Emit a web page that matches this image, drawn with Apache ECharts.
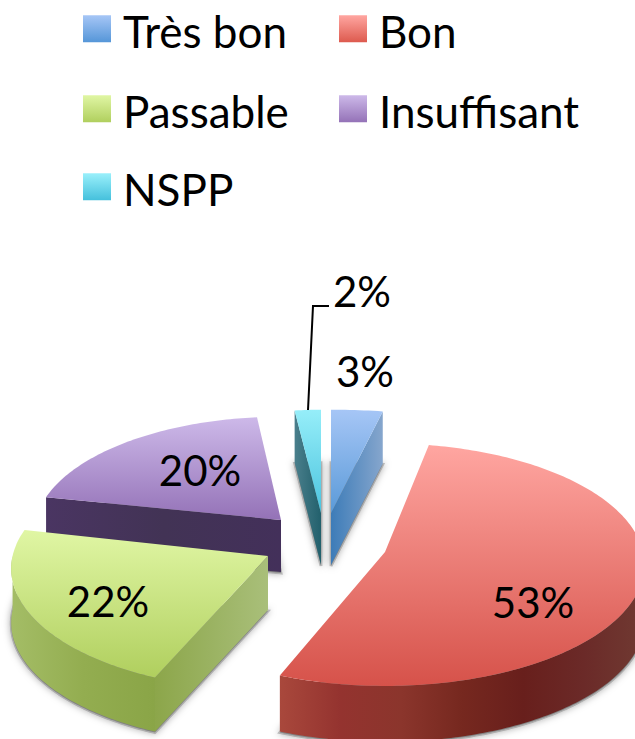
<!DOCTYPE html>
<html lang="fr">
<head>
<meta charset="utf-8">
<title>Répartition</title>
<script src="https://cdn.jsdelivr.net/npm/echarts@6/dist/echarts.min.js"></script>
<style>
  html, body { margin: 0; padding: 0; background: #fff; }
  #chart { width: 635px; height: 739px; }
</style>
</head>
<body>
<div id="chart"></div>
<script>
// data, clockwise from 12 o'clock
var categories = ['Très bon', 'Bon', 'Passable', 'Insuffisant', 'NSPP'];
var values = [3, 53, 22, 20, 2];

// pie geometry (tilted disc with a bit of perspective)
var center = [326, 530];
var radiusX = 258, radiusY = 120, perspective = 0.104;
var depth = [52, 56, 54, 52, 52];
var explode = [[5, -17], [59, 22], [-58, 26], [-45, -10], [-5, -17]];
var sliceScale = [[1.18, 0.95], [1, 1], [0.99, 1], [0.95, 0.95], [0.9, 0.95]];
var sliceTurn = [0, 0, 2, 1, 0];
var drawOrder = [2, 5, 4, 3, 1];
var labelPos = [[365, 371], [533, 602], [108, 601], [200, 470], [362, 291]];
var legendPos = [[83, 8.5], [339, 8.5], [83, 88.5], [339, 88.5], [83, 166.5]];

// colours
var topColors = [['#a6c6f6', '#5a9ad8'], ['#ffa6a1', '#d6524a'], ['#e0f6a4', '#b0cf5e'], ['#cdb9e9', '#9472b7'], ['#96eef9', '#4bc3de']];
var legendColors = [['#a6c6f6', '#5596d8'], ['#ffa6a1', '#dd5a4e'], ['#e0f6a4', '#b0cf5e'], ['#cdb9e9', '#9472b7'], ['#9af0fb', '#45c0dc']];
var arcColors = [
  ['#3f7db8', '#3f7db8'],
  ['#a9483c', '#94332f', '#8b352c', '#76281f', '#681f1c', '#6b2a28', '#703a32'],
  ['#a4bd66', '#93ad50', '#8aa547'],
  ['#4a3562', '#43305a'],
  ['#25606c', '#25606c']
];
var edgeColors = [
  ['#3d7cb8', '#86a6cd'],
  ['#a9483c', '#a9483c'],
  ['#8ca64a', '#a9bf7a'],
  ['#4a3562', '#423355', '#43305a'],
  ['#4a7f8c', '#22606c']
];

// start and end angle of each slice, in degrees
var total = values.reduce(function(a, b) { return a + b; }, 0);
var angles = [];
var running = 0;
values.forEach(function(v, i) {
  angles.push([running / total * 360 + sliceTurn[i], (running + v) / total * 360 + sliceTurn[i]]);
  running += v;
});

function project(i, theta) {
  var t = theta * Math.PI / 180;
  var s = 1 / (1 + perspective * Math.cos(t));
  return [
    center[0] + explode[i][0] + radiusX * sliceScale[i][0] * Math.sin(t) * s,
    center[1] + explode[i][1] - radiusY * sliceScale[i][1] * Math.cos(t) * s
  ];
}

function arcPoints(i, from, to) {
  var pts = [];
  var n = Math.max(2, Math.ceil(to - from));
  for (var k = 0; k <= n; k++) pts.push(project(i, from + (to - from) * k / n));
  return pts;
}

function shiftDown(pts, dy) {
  return pts.map(function(p) { return [p[0], p[1] + dy]; });
}

function gradient(colors, vertical) {
  return {
    type: 'linear', x: 0, y: 0, x2: vertical ? 0 : 1, y2: vertical ? 1 : 0,
    colorStops: colors.map(function(c, j) {
      return { offset: colors.length > 1 ? j / (colors.length - 1) : 0, color: c };
    })
  };
}

function wall(topPts, h, colors) {
  var pts = topPts.concat(shiftDown(topPts, h).reverse());
  return { type: 'polygon', shape: { points: pts }, style: { fill: gradient(colors, false) } };
}

function renderSlice(params, api) {
  var i = params.seriesIndex;
  var a0 = angles[i][0], a1 = angles[i][1];
  var h = depth[i];
  var apex = [center[0] + explode[i][0], center[1] + explode[i][1]];
  var outline = [apex].concat(arcPoints(i, a0, a1));
  var children = [];

  // soft shadow under the slice
  children.push({
    type: 'polygon',
    shape: { points: shiftDown(outline, h + 1) },
    style: {
      fill: 'rgba(90,90,90,0.6)', stroke: 'rgba(120,120,120,0.45)', lineWidth: 3,
      shadowBlur: 7, shadowColor: 'rgba(0,0,0,0.5)'
    }
  });

  // radial wall, only when it faces the viewer
  if (Math.sin(a0 * Math.PI / 180) < -1e-6) children.push(wall([project(i, a0), apex], h, edgeColors[i]));
  if (Math.sin(a1 * Math.PI / 180) > 1e-6) children.push(wall([apex, project(i, a1)], h, edgeColors[i]));

  // outer wall on the front half of the disc
  var from = Math.max(a0, 90), to = Math.min(a1, 270);
  if (to > from) children.push(wall(arcPoints(i, from, to), h, arcColors[i]));

  // top face
  children.push({ type: 'polygon', shape: { points: outline }, style: { fill: gradient(topColors[i], true) } });

  // 2% has a leader line
  if (categories[i] === 'NSPP') {
    children.push({
      type: 'polyline',
      shape: { points: [[329, 306], [313, 306], [308, 410]] },
      style: { stroke: '#000', lineWidth: 2, fill: null }
    });
  }

  children.push({
    type: 'text',
    x: labelPos[i][0], y: labelPos[i][1],
    style: {
      text: api.value(0) + '%', fill: '#000', font: '42px Lato',
      textAlign: 'center', textVerticalAlign: 'middle'
    }
  });
  return { type: 'group', children: children };
}

var chart = echarts.init(document.getElementById('chart'), null, { renderer: 'svg' });
chart.setOption({
  animation: false,
  backgroundColor: '#fff',
  legend: categories.map(function(name, i) {
    return {
      data: [name],
      left: legendPos[i][0], top: legendPos[i][1],
      padding: 0,
      selectedMode: false,
      icon: 'rect',
      itemWidth: 28, itemHeight: 27,
      itemStyle: { color: gradient(legendColors[i], true), borderWidth: 0 },
      formatter: '{t|{name}}',
      textStyle: {
        rich: { t: { color: '#000', fontFamily: 'Lato', fontSize: 44, padding: [3.5, 0, 0, 7] } }
      }
    };
  }),
  series: categories.map(function(name, i) {
    return {
      type: 'custom',
      name: name,
      coordinateSystem: 'none',
      z: drawOrder[i],
      data: [[values[i]]],
      renderItem: renderSlice
    };
  })
});
window.addEventListener('resize', function() { chart.resize(); });
</script>
</body>
</html>
